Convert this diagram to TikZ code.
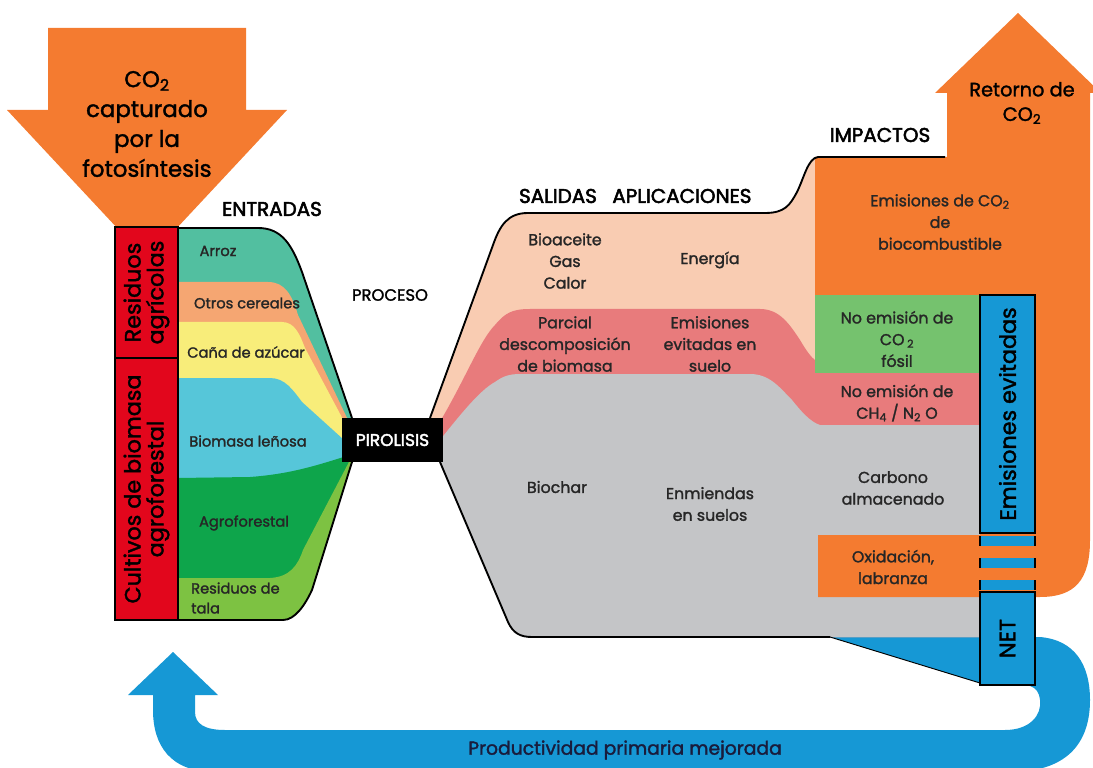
\documentclass[tikz,border=0pt]{standalone}
\usepackage{fontspec}
\setmainfont{Poppins}[FakeBold=1.6]
\usetikzlibrary{positioning,calc}

\definecolor{naranja}{RGB}{244,123,48}
\definecolor{rojo}{RGB}{226,6,28}
\definecolor{azul}{RGB}{22,152,213}
\definecolor{arrozc}{RGB}{82,191,160}
\definecolor{cereal}{RGB}{245,166,114}
\definecolor{cana}{RGB}{248,237,122}
\definecolor{lenosa}{RGB}{86,198,217}
\definecolor{agro}{RGB}{14,165,75}
\definecolor{talac}{RGB}{125,194,66}
\definecolor{durazno}{RGB}{249,204,178}
\definecolor{rosa}{RGB}{232,123,124}
\definecolor{gris}{RGB}{196,197,199}
\definecolor{verde}{RGB}{117,194,110}
\definecolor{marino}{RGB}{25,28,60}

\tikzset{
  etiq/.style={align=center, inner sep=0pt, text=black!85, font=\fontsize{13.5}{18.5}\selectfont},
  chica/.style={align=center, inner sep=0pt, text=black!85, font=\fontsize{12.5}{17}\selectfont},
  titulo/.style={inner sep=0pt, font=\fontsize{17}{20}\selectfont\addfontfeature{FakeBold=2.6}},
  vertical/.style={rotate=90, align=center, inner sep=0pt, draw=black, line width=2.5pt, font=\fontsize{19}{19.5}\selectfont},
  contorno/.style={line width=1.6pt, line join=round},
}

\begin{document}
\begin{tikzpicture}[x=0.03cm,y=-0.03cm]
\useasboundingbox (0,0) rectangle (1093,768);
%
\fill[azul] (830,637) -- (1040,637) .. controls (1075,640) and (1090,665) .. (1090,700)
  .. controls (1090,745) and (1065,772) .. (1010,772) -- (215,772)
  .. controls (170,772) and (153,745) .. (153,710) -- (153,695) -- (128,695) -- (173,652)
  -- (218,695) -- (195,695) -- (195,712) .. controls (195,724) and (205,730) .. (225,730)
  -- (1005,730) .. controls (1030,730) and (1042,715) .. (1040,700)
  .. controls (1039,692) and (1036,688) .. (1030,686) -- (980,683) -- cycle;
%
\fill[durazno] (430,418) -- (493,245) .. controls (500,225) and (508,213) .. (528,213) -- (765,213)
  .. controls (785,213) and (790,205) .. (797,192) .. controls (804,178) and (808,158) .. (818,157)
  -- (818,295) -- (980,295) -- (980,637) -- (532,637) .. controls (520,637) and (513,633) .. (508,622)
  -- (440,462) -- cycle;
\fill[rosa] (438,425) .. controls (465,380) and (480,340) .. (495,325) .. controls (505,313) and (512,309) .. (530,309)
  -- (760,309) .. controls (780,309) and (790,325) .. (800,340) .. controls (806,350) and (812,360) .. (820,363)
  -- (980,363) -- (980,637) -- (532,637) .. controls (520,637) and (513,633) .. (508,622) -- (440,462) -- cycle;
\fill[gris] (440,440) .. controls (460,415) and (480,390) .. (495,382) .. controls (502,377) and (508,374) .. (520,374)
  -- (750,374) .. controls (770,374) and (780,388) .. (792,400) .. controls (800,410) and (810,422) .. (820,425)
  -- (980,425) -- (980,637) -- (532,637) .. controls (520,637) and (513,633) .. (508,622) -- (440,462) -- cycle;
\fill[verde] (815,295) rectangle (980,373);
\fill[naranja] (815,157) -- (947,157) -- (947,93) -- (935,93) -- (1018,13) -- (1101,93) -- (1090,93)
  -- (1090,540) .. controls (1090,580) and (1075,597) .. (1040,597) -- (818,597) -- (818,535)
  -- (980,535) -- (980,295) -- (815,295) -- cycle;
\draw[contorno] (430,418) -- (493,245) .. controls (500,225) and (508,213) .. (528,213) -- (765,213)
  .. controls (785,213) and (790,205) .. (797,192) .. controls (804,178) and (808,158) .. (818,157) -- (945,157);
\draw[contorno] (440,462) -- (508,622) .. controls (513,633) and (520,637) .. (532,637) -- (830,637);
\draw[line width=0.8pt] (830,637) -- (980,683);
%
\node[vertical, fill=azul, minimum width=7.14cm, minimum height=1.65cm] (evitadas) at (1007.5,414) {Emisiones evitadas};
\node[vertical, fill=azul, minimum width=2.79cm, minimum height=1.65cm] (net) at (1007.5,638.5) {NET};
\foreach \y in {536,558,580} {
  \fill[azul] (980,\y) rectangle (1035,\y+10);
  \draw[line width=2.5pt] (980,\y) -- (980,\y+10) (1035,\y) -- (1035,\y+10);
}
%
\fill[arrozc] (178,228) -- (258,228) .. controls (282,228) and (292,245) .. (302,272) -- (352,418)
  -- (352,462) -- (312,590) .. controls (305,605) and (295,620) .. (283,620) -- (178,620) -- cycle;
\fill[cereal] (178,282) -- (268,282) .. controls (285,282) and (292,295) .. (298,315) -- (348,420)
  -- (352,462) -- (312,590) .. controls (305,605) and (295,620) .. (283,620) -- (178,620) -- cycle;
\fill[cana] (178,322) -- (282,322) .. controls (295,322) and (300,335) .. (305,348) -- (346,425)
  -- (352,462) -- (312,590) .. controls (305,605) and (295,620) .. (283,620) -- (178,620) -- cycle;
\fill[lenosa] (178,378) -- (270,378) .. controls (285,378) and (293,390) .. (302,402) -- (344,440)
  -- (352,462) -- (312,590) .. controls (305,605) and (295,620) .. (283,620) -- (178,620) -- cycle;
\fill[agro] (178,478) -- (250,477) .. controls (290,474) and (315,466) .. (350,455)
  -- (352,462) -- (312,590) .. controls (305,605) and (295,620) .. (283,620) -- (178,620) -- cycle;
\fill[talac] (178,578) -- (270,578) .. controls (290,577) and (298,565) .. (303,550) -- (350,460)
  -- (352,462) -- (312,590) .. controls (305,605) and (295,620) .. (283,620) -- (178,620) -- cycle;
\draw[contorno] (178,228) -- (258,228) .. controls (282,228) and (292,245) .. (302,272) -- (352,418);
\draw[contorno] (352,462) -- (312,590) .. controls (305,605) and (295,620) .. (283,620) -- (178,620);
%
\fill[naranja] (48,28) -- (246,28) -- (246,110) -- (287,110) -- (147,260) -- (7,110) -- (48,110) -- cycle;
\node[align=center, inner sep=0pt, font=\fontsize{19.5}{25.5}\selectfont] (captura) at (147,124)
  {CO\textsubscript{2}\\capturado\\por la\\fotosíntesis};
\node[vertical, fill=rojo, minimum width=3.93cm, minimum height=1.89cm] (residuos) at (146.5,292.5) {Residuos\\agrícolas};
\node[vertical, fill=rojo, minimum width=7.86cm, minimum height=1.89cm] (cultivos) at (146.5,489) {Cultivos de biomasa\\agroforestal};
\node[fill=black, text=white, minimum width=3.03cm, minimum height=1.32cm, font=\fontsize{14.5}{16}\selectfont\addfontfeature{FakeBold=2.6}] (pirolisis) at (392.5,440) {PIROLISIS};
%
\node[titulo] (entradas) at (272,209) {ENTRADAS};
\node[titulo, font=\fontsize{14}{16}\selectfont] (proceso) at (390,295) {PROCESO};
\node[titulo] (salidas) at (558,196) {SALIDAS};
\node[titulo, right=0.45cm of salidas] (aplicaciones) {APLICACIONES};
\node[titulo] (impactos) at (880,135) {IMPACTOS};
\node[titulo, align=center, font=\fontsize{16.5}{21}\selectfont] (retorno) at (1022,103) {Retorno de\\CO\textsubscript{2}};
%
\node[chica] (arroz) at (218,251) {Arroz};
\node[chica] (cereales) at (247,303) {Otros cereales};
\node[chica] (cana) at (246,352) {Caña de azúcar};
\node[chica] (lenosa) at (248,441) {Biomasa leñosa};
\node[chica] (agroforestal) at (244,523) {Agroforestal};
\node[chica, align=left, anchor=west] (tala) at (191,598) {Residuos de\\tala};
%
\node[etiq] (bioaceite) at (565,261) {Bioaceite\\Gas\\Calor};
\node[etiq] (energia) at (710,260) {Energía};
\node[etiq] (parcial) at (565,344) {Parcial\\descomposición\\de biomasa};
\node[etiq] (suelo) at (710,344) {Emisiones\\evitadas en\\suelo};
\node[etiq] (biochar) at (557,487) {Biochar};
\node[etiq] (enmiendas) at (710,504) {Enmiendas\\en suelos};
\node[etiq] (biocomb) at (940,222) {Emisiones de CO\textsubscript{2}\\de\\biocombustible};
\node[etiq] (fosil) at (897,339) {No emisión de\\CO\,\textsubscript{2}\\fósil};
\node[etiq] (metano) at (897,403) {No emisión de\\CH\textsubscript{4} / N\textsubscript{2} O};
\node[etiq] (carbono) at (893,488) {Carbono\\almacenado};
\node[etiq] (oxidacion) at (893,567) {Oxidación,\\labranza};
\node[inner sep=0pt, text=marino, font=\fontsize{16}{18}\selectfont] (productividad) at (625,750) {Productividad primaria mejorada};
\end{tikzpicture}
\end{document}
